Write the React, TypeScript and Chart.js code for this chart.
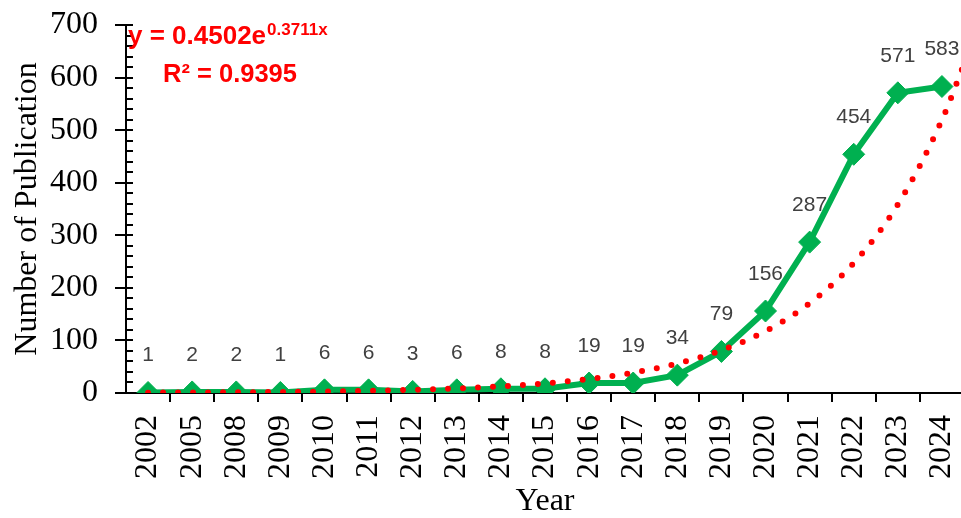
import React, { useEffect, useRef } from "react";
import { Chart, registerables } from "chart.js";
Chart.register(...registerables);

const years = ["2002","2005","2008","2009","2010","2011","2012","2013","2014","2015","2016","2017","2018","2019","2020","2021","2022","2023","2024"];
const publications = [1,2,2,1,6,6,3,6,8,8,19,19,34,79,156,287,454,571,583];
// Exponential trendline (y = 0.4502e^0.3711x), sampled at category positions
const trendX = [1,2,3,4,5,6,7,8,9,10,11,12,13,14,15,16,17,18,19,19.5];
const trendY = [0.65,0.95,1.37,1.99,2.88,4.17,6.05,8.76,12.7,18.4,26.7,38.7,56.1,81.2,117.7,170.6,247.3,358.4,519.4,625.4];
const yMajorTicks = [0,100,200,300,400,500,600,700];
const equationMain = "y = 0.4502e";
const equationExp = "0.3711x";
const equationR2 = "R² = 0.9395";

const GREEN = "#00B050";
const RED = "#FF0000";
const SERIF = "'Liberation Serif', 'Times New Roman', serif";
const SANS = "'Liberation Sans', Arial, sans-serif";

const axesPlugin = {
  id: "axesDraw",
  beforeDatasetsDraw(chart: any) {
    const { ctx, chartArea, scales } = chart;
    const { left, right, top, bottom } = chartArea;
    const y = scales.y;
    const x = scales.x;
    ctx.save();
    ctx.strokeStyle = "#000";
    ctx.lineWidth = 2;
    ctx.beginPath();
    ctx.moveTo(left, top);
    ctx.lineTo(left, bottom);
    ctx.moveTo(left - 11, bottom);
    ctx.lineTo(right, bottom);
    for (let v = 0; v <= 700; v += 20) {
      const py = Math.round(y.getPixelForValue(v));
      if (yMajorTicks.includes(v)) {
        ctx.moveTo(left - 11, py);
        ctx.lineTo(left + 7, py);
      } else {
        ctx.moveTo(left, py);
        ctx.lineTo(left + 7, py);
      }
    }
    for (let i = 1; i < years.length; i++) {
      const px = Math.round(x.getPixelForValue(i + 0.5));
      ctx.moveTo(px, bottom);
      ctx.lineTo(px, bottom + 9);
    }
    ctx.stroke();
    ctx.restore();
  },
  afterDatasetsDraw(chart: any) {
    const { ctx } = chart;
    const meta = chart.getDatasetMeta(0);
    ctx.save();
    ctx.fillStyle = "#404040";
    ctx.font = `21px ${SANS}`;
    ctx.textAlign = "center";
    ctx.textBaseline = "middle";
    meta.data.forEach((pt: any, i: number) => {
      ctx.fillText(String(publications[i]), pt.x, pt.y - 37);
    });
    ctx.restore();
  },
  afterDraw(chart: any) {
    const { ctx } = chart;
    ctx.save();
    ctx.fillStyle = RED;
    ctx.textAlign = "left";
    ctx.textBaseline = "alphabetic";
    ctx.font = `bold 26px ${SANS}`;
    ctx.fillText(equationMain, 128, 44);
    const w = ctx.measureText(equationMain).width;
    ctx.font = `bold 17px ${SANS}`;
    ctx.fillText(equationExp, 128 + w + 1, 35);
    ctx.font = `bold 25.5px ${SANS}`;
    ctx.fillText(equationR2, 163, 82);
    ctx.restore();
  },
};

export default function App() {
  const ref = useRef<HTMLCanvasElement>(null);
  useEffect(() => {
    document.body.style.margin = "0";
    document.body.style.overflow = "hidden";
    const canvas = ref.current!;
    const chart = new Chart(canvas, {
      type: "line",
      data: {
        datasets: [
          {
            label: "Publications",
            data: publications.map((v, i) => ({ x: i + 1, y: v })),
            borderColor: GREEN,
            backgroundColor: GREEN,
            borderWidth: 6,
            pointStyle: "rectRot",
            pointRadius: 11,
            pointBackgroundColor: GREEN,
            pointBorderColor: GREEN,
            pointBorderWidth: 1,
            tension: 0,
            order: 2,
          },
          {
            label: "Trend",
            data: trendX.map((xv, i) => ({ x: xv, y: trendY[i] })),
            borderColor: RED,
            borderWidth: 6,
            borderDash: [0, 15],
            borderCapStyle: "round",
            pointRadius: 0,
            cubicInterpolationMode: "monotone",
            fill: false,
            order: 1,
          },
        ],
      } as any,
      options: {
        responsive: false,
        animation: false,
        layout: { padding: { top: 25, right: 2, left: 0, bottom: 0 } },
        plugins: { legend: { display: false }, tooltip: { enabled: false } },
        scales: {
          x: {
            type: "linear",
            min: 0.5,
            max: 19.5,
            grid: { display: false },
            border: { display: false },
            afterBuildTicks: (scale: any) => {
              scale.ticks = years.map((_, i) => ({ value: i + 1 }));
            },
            afterFit: (scale: any) => {
              scale.height = 125;
              scale.paddingLeft = 0;
              scale.paddingRight = 0;
            },
            ticks: {
              autoSkip: false,
              minRotation: 90,
              maxRotation: 90,
              padding: 14,
              color: "#000",
              font: { family: SERIF, size: 32 },
              callback: (v: any) => years[Math.round(Number(v)) - 1] ?? "",
            },
            title: {
              display: true,
              text: "Year",
              color: "#000",
              font: { family: SERIF, size: 32, lineHeight: 1.0 },
              padding: { top: 0, bottom: 0 },
            },
          },
          y: {
            type: "linear",
            min: 0,
            max: 700,
            grid: { display: false },
            border: { display: false },
            afterBuildTicks: (scale: any) => {
              scale.ticks = yMajorTicks.map((v) => ({ value: v }));
            },
            afterFit: (scale: any) => {
              scale.width = 126;
              scale.paddingTop = 0;
              scale.paddingBottom = 0;
            },
            ticks: {
              padding: 20,
              color: "#000",
              font: { family: SERIF, size: 32 },
            },
            title: {
              display: true,
              text: "Number of Publication",
              color: "#000",
              font: { family: SERIF, size: 32 },
              padding: { top: 8, bottom: 0 },
            },
          },
        },
      } as any,
      plugins: [axesPlugin],
    });
    return () => chart.destroy();
  }, []);
  return (
    <div style={{ width: 961, height: 518, overflow: "hidden", background: "#fff" }}>
      <canvas ref={ref} width={976} height={518} style={{ width: 976, height: 518, display: "block" }} />
    </div>
  );
}
